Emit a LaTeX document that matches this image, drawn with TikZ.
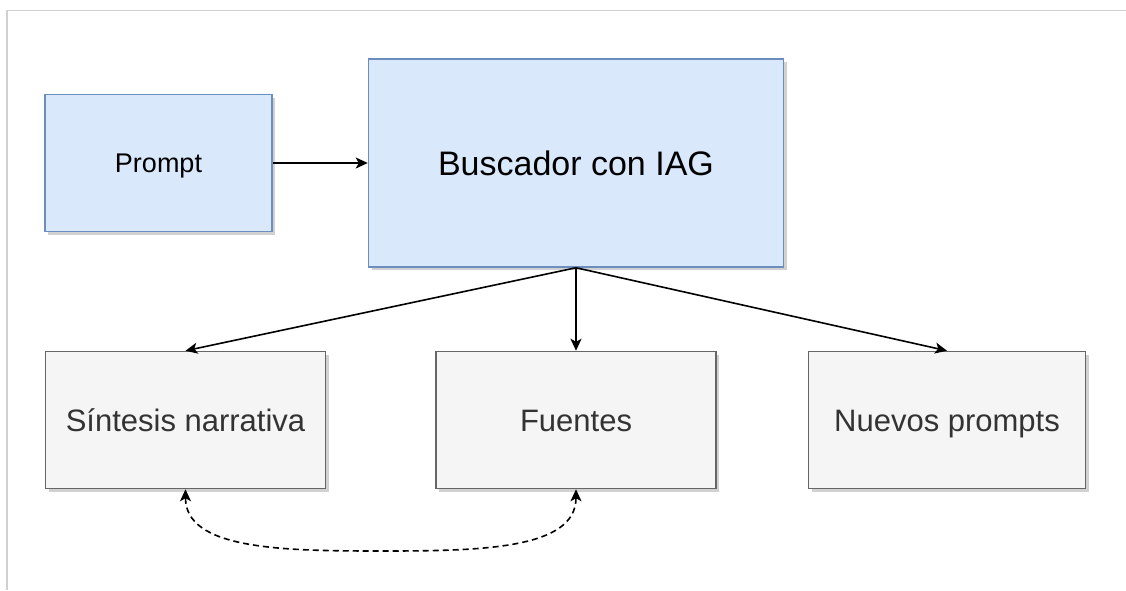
\documentclass[tikz,border=0pt]{standalone}
\usepackage{fontspec}
\setmainfont{Liberation Sans}
\usepackage{xcolor}
\usetikzlibrary{positioning, arrows.meta, shadows}
\definecolor{blueish}{HTML}{DAE8FC}
\definecolor{blueline}{HTML}{6C8EBF}
\definecolor{grayish}{HTML}{F5F5F5}
\definecolor{grayline}{HTML}{666666}
\definecolor{graytext}{HTML}{333333}
\definecolor{frameline}{HTML}{D0D0D0}
\tikzstyle{boxshadow} = [drop shadow={shadow xshift=3pt, shadow yshift=-3pt, fill=black, opacity=0.18}]
\tikzstyle{inputbox} = [rectangle, minimum width=227pt, minimum height=137pt, text centered, draw=blueline, fill=blueish, line width=1.5pt, boxshadow, font=\fontsize{27}{32}\selectfont, text height=19.3pt, text depth=0pt]
\tikzstyle{enginebox} = [inputbox, minimum width=415pt, minimum height=208pt, font=\fontsize{34}{40}\selectfont, text height=24.4pt]
\tikzstyle{outputbox} = [rectangle, minimum width=280pt, minimum height=137pt, text centered, draw=grayline, fill=grayish, text=graytext, line width=1.5pt, boxshadow, font=\fontsize{31}{37}\selectfont, text height=22.2pt, text depth=0pt]
\tikzstyle{arrow} = [line width=1.6pt, -{Stealth[length=12pt, width=11pt, inset=3pt]}]
\tikzstyle{dashedarrow} = [line width=1.6pt, dash pattern=on 6pt off 4pt, {Stealth[length=12pt, width=11pt, inset=3pt]}-{Stealth[length=12pt, width=11pt, inset=3pt]}]

\begin{document}
\begin{tikzpicture}[x=1pt, y=-1pt]
    \useasboundingbox (0,0) rectangle (1126,590);
    \draw[frameline, line width=1.5pt] (1126,10.5) -- (7,10.5) -- (7,590);

    \node (prompt) [inputbox] at (158.5,163) {Prompt};
    \node (buscador) [enginebox, right=95pt of prompt] {Buscador con IAG};
    \node (fuentes) [outputbox, below=83pt of buscador] {Fuentes};
    \node (sintesis) [outputbox, left=109pt of fuentes] {Síntesis narrativa};
    \node (nuevos) [outputbox, minimum width=277pt, right=91pt of fuentes] {Nuevos prompts};
    \coordinate (bend) at (381,551);

    \draw[arrow] (prompt) -- (buscador);
    \draw[arrow] (buscador.south) -- (sintesis.north);
    \draw[arrow] (buscador.south) -- (fuentes.north);
    \draw[arrow] (buscador.south) -- (nuevos.north);
    \draw[dashedarrow] (sintesis.south) .. controls +(0,-60pt) and +(-100pt,0) .. (bend)
        .. controls +(100pt,0) and +(0,-60pt) .. (fuentes.south);
\end{tikzpicture}
\end{document}
